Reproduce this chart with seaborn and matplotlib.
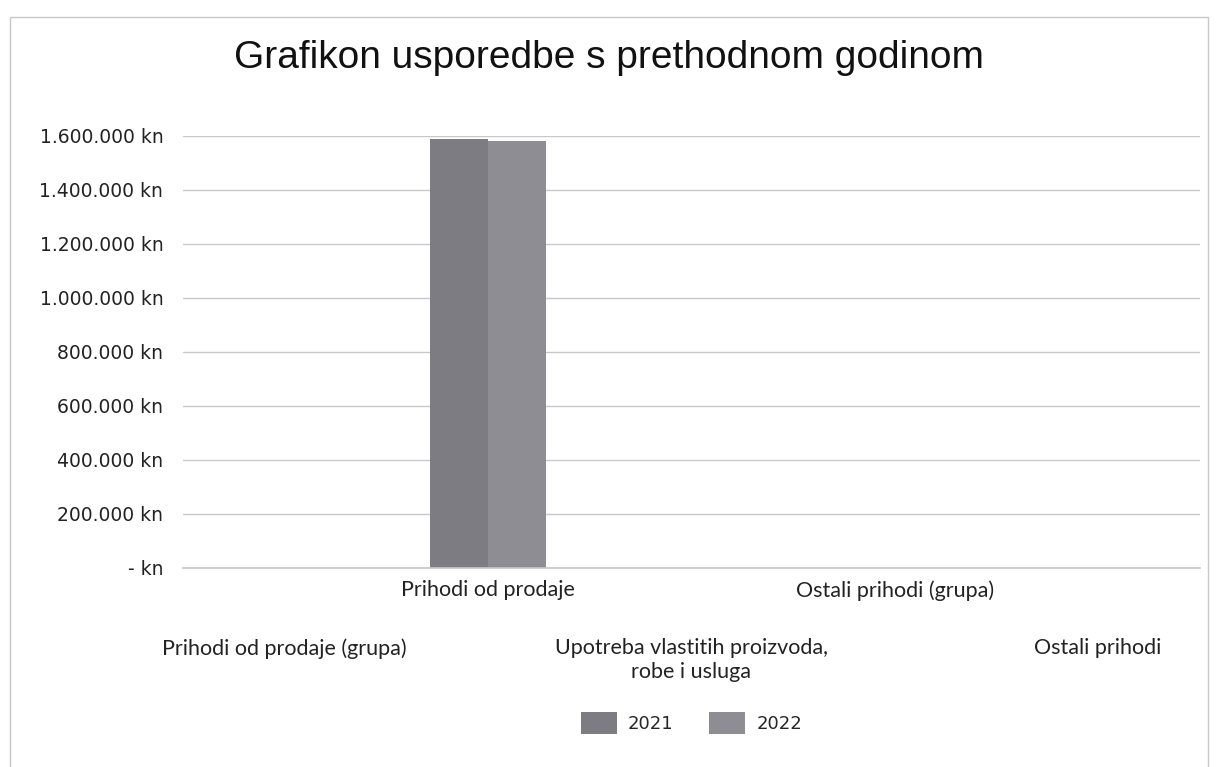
import pandas as pd
import matplotlib
matplotlib.use("Agg")
import matplotlib.pyplot as plt
from matplotlib.ticker import FuncFormatter
from matplotlib.patches import Rectangle
import seaborn as sns

# --- Données ---
categories = [
    "Prihodi od prodaje (grupa)",
    "Prihodi od prodaje",
    "Upotreba vlastitih proizvoda,\nrobe i usluga",
    "Ostali prihodi (grupa)",
    "Ostali prihodi",
]
years = ["2021", "2022"]
values_2021 = [0, 1588000, 0, 0, 0]
values_2022 = [0, 1581000, 0, 0, 0]
colors = ["#7c7c82", "#8d8d93"]

df = pd.DataFrame({
    "kategorija": categories * 2,
    "godina": [years[0]] * len(categories) + [years[1]] * len(categories),
    "iznos": values_2021 + values_2022,
})

sns.set_theme(style="white")
plt.rcParams["font.family"] = ["DejaVu Sans"]

fig = plt.figure(figsize=(12.18, 7.67), dpi=100)
ax = fig.add_axes([0.150, 0.2595, 0.835, 0.5632])

sns.barplot(data=df, x="kategorija", y="iznos", hue="godina", palette=colors,
            width=0.57, saturation=1, linewidth=0, ax=ax, legend=True)

# Format des montants en kuna
def kn_fmt(v, pos):
    if v == 0:
        return "- kn"
    return f"{int(v):,} kn".replace(",", ".")

ax.set_ylim(0, 1600000)
ax.set_yticks(range(0, 1600001, 200000))
ax.yaxis.set_major_formatter(FuncFormatter(kn_fmt))
ax.grid(axis="y", color="#c8c8cc", linewidth=1)
ax.set_axisbelow(True)
for s in ["top", "right", "left"]:
    ax.spines[s].set_visible(False)
ax.spines["bottom"].set_color("#c8c8cc")
ax.tick_params(axis="both", length=0)
ax.tick_params(axis="y", labelsize=13.5, labelcolor="#222222", pad=14)
ax.set_xlabel("")
ax.set_ylabel("")

# Étiquettes de catégories sur deux rangées
ax.set_xticks(range(len(categories)))
ax.set_xticklabels(categories, fontsize=15.5, color="#222222", family=["Lato", "DejaVu Sans"],
                   multialignment="center")
ax.tick_params(axis="x", pad=9)
for i, lab in enumerate(ax.get_xticklabels()):
    if i % 2 == 0:
        lab.set_y(-0.134)

fig.suptitle("Grafikon usporedbe s prethodnom godinom", x=0.5, y=0.948,
             fontsize=28, family=["Liberation Sans", "DejaVu Sans"], color="#111111")

leg = ax.legend(loc="upper center", bbox_to_anchor=(0.5, -0.295), ncol=2, frameon=False,
                fontsize=13, handlelength=2.0, handleheight=1.5, columnspacing=2.0,
                handletextpad=0.6)

# Cadre extérieur du graphique
fig.patches.append(Rectangle((10 / 1218, -0.05), 1198 / 1218, 1 - 17 / 767 + 0.05,
                             transform=fig.transFigure, fill=False,
                             edgecolor="#c8c8c8", linewidth=1))

fig.savefig("out.png", dpi=100)
